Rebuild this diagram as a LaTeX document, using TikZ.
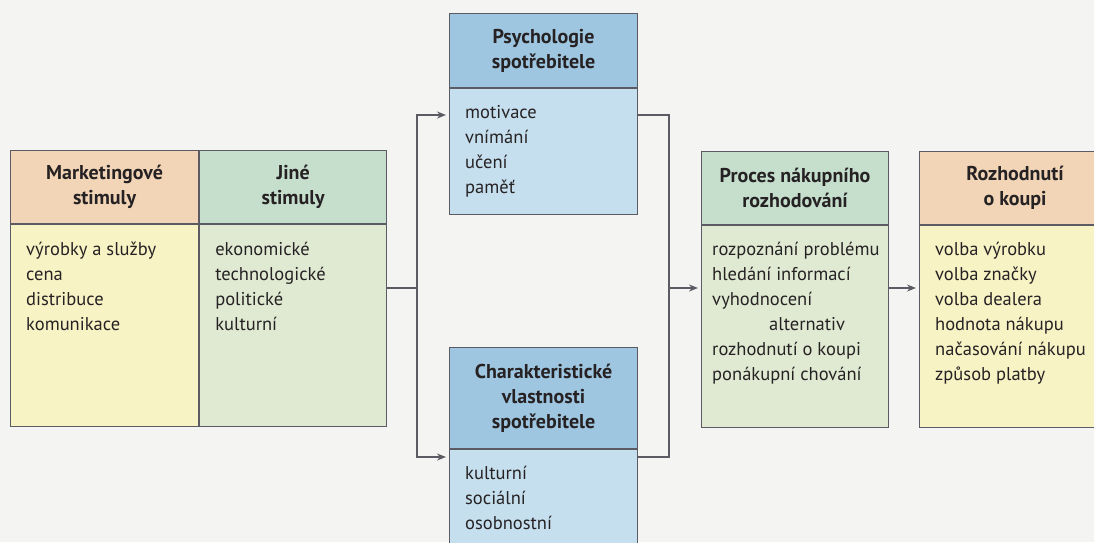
\documentclass[tikz,border=0pt]{standalone}
\usepackage{fontspec}
\setmainfont{PT Sans}
\usepackage{tikz}
\usetikzlibrary{arrows.meta,positioning}
\definecolor{framegray}{RGB}{92,90,98}
\definecolor{inkdark}{RGB}{38,34,36}
\definecolor{peachhead}{RGB}{241,213,182}
\definecolor{creambody}{RGB}{248,243,197}
\definecolor{greenhead}{RGB}{198,223,204}
\definecolor{greenbody}{RGB}{224,234,210}
\definecolor{bluehead}{RGB}{158,198,224}
\definecolor{bluebody}{RGB}{198,223,238}
\definecolor{pagebg}{RGB}{244,244,243}

\begin{document}
\begin{tikzpicture}[x=1pt,y=-1pt,>=Stealth,
  cell/.style={draw=framegray,line width=1.1pt,anchor=north west,inner sep=0pt},
  head/.style={font=\bfseries\fontsize{20}{25}\selectfont,align=center,text=inkdark},
  items/.style={anchor=north west,inner sep=0pt,align=left,font=\fontsize{18.5}{25}\selectfont,text=inkdark},
  conn/.style={draw=framegray,line width=1.6pt,line cap=rect},
  arr/.style={conn,-{Stealth[length=9pt,width=7pt]},shorten >=3pt}]
  \useasboundingbox[fill=pagebg] (0,0) rectangle (1094,542);
  \clip (0,0) rectangle (1094,542);
  % stimuli
  \node[cell,head,fill=peachhead,minimum width=188pt,minimum height=73pt] (mktHead) at (10,150) {Marketingové\\stimuly};
  \node[cell,fill=creambody,minimum width=188pt,minimum height=202pt] (mktBody) at (mktHead.south west) {};
  \node[cell,head,fill=greenhead,minimum width=187pt,minimum height=73pt] (jineHead) at (mktHead.north east) {Jiné\\stimuly};
  \node[cell,fill=greenbody,minimum width=187pt,minimum height=202pt] (jineBody) at (jineHead.south west) {};
  \node[items] (mktList) at ([xshift=16pt,yshift=-14pt]mktBody.north west) {\strut výrobky a služby\\cena\\distribuce\\komunikace};
  \node[items] (jineList) at ([xshift=16pt,yshift=-14pt]jineBody.north west) {\strut ekonomické\\technologické\\politické\\kulturní};
  % black box
  \node[cell,head,fill=bluehead,minimum width=188pt,minimum height=74pt] (psyHead) at (449,13) {Psychologie\\spotřebitele};
  \node[cell,fill=bluebody,minimum width=188pt,minimum height=126pt] (psyBody) at (psyHead.south west) {};
  \node[items] (psyList) at ([xshift=16pt,yshift=-13pt]psyBody.north west) {\strut motivace\\vnímání\\učení\\paměť};
  \node[cell,head,fill=bluehead,minimum width=188pt,minimum height=101pt] (charHead) at (449,347) {Charakteristické\\vlastnosti\\spotřebitele};
  \node[cell,fill=bluebody,minimum width=188pt,minimum height=120pt] (charBody) at (charHead.south west) {};
  \node[items] (charList) at ([xshift=16pt,yshift=-13pt]charBody.north west) {\strut kulturní\\sociální\\osobnostní};
  % response
  \node[cell,head,fill=greenhead,minimum width=187pt,minimum height=73pt] (procHead) at (701,151) {Proces nákupního\\rozhodování};
  \node[cell,fill=greenbody,minimum width=187pt,minimum height=202pt] (procBody) at (procHead.south west) {};
  \node[items] (procList) at ([xshift=11pt,yshift=-13pt]procBody.north west) {\strut rozpoznání problému\\hledání informací\\vyhodnocení\\\hspace*{57pt}alternativ\\rozhodnutí o koupi\\ponákupní chování};
  \node[cell,head,fill=peachhead,minimum width=191pt,minimum height=73pt] (rozHead) at (919,151) {Rozhodnutí\\o koupi};
  \node[cell,fill=creambody,minimum width=191pt,minimum height=202pt] (rozBody) at (rozHead.south west) {};
  \node[items] (rozList) at ([xshift=16pt,yshift=-13pt]rozBody.north west) {\strut volba výrobku\\volba značky\\volba dealera\\hodnota nákupu\\načasování nákupu\\způsob platby};
  % connectors
  \coordinate (splitTop) at (417,115);
  \coordinate (splitMid) at (417,288);
  \coordinate (splitBot) at (417,457);
  \coordinate (mergeTop) at (669,115);
  \coordinate (mergeMid) at (669,288);
  \coordinate (mergeBot) at (669,457);
  \draw[conn] (splitMid -| jineBody.east) -- (splitMid);
  \draw[conn] (splitTop) -- (splitBot);
  \draw[arr] (splitTop) -- (splitTop -| psyBody.west);
  \draw[arr] (splitBot) -- (splitBot -| charBody.west);
  \draw[conn] (mergeTop -| psyBody.east) -- (mergeTop) -- (mergeBot) -- (mergeBot -| charBody.east);
  \draw[arr] (mergeMid) -- (mergeMid -| procBody.west);
  \draw[arr] (procBody.east |- mergeMid) -- (rozBody.west |- mergeMid);
\end{tikzpicture}
\end{document}
